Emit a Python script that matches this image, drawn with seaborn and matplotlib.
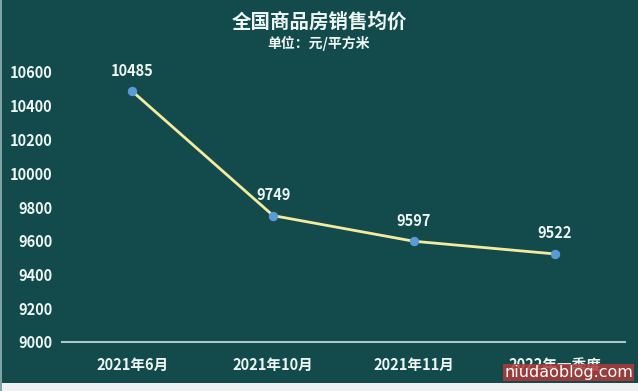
import matplotlib
matplotlib.use("Agg")
import matplotlib.pyplot as plt
import seaborn as sns
import pandas as pd
from matplotlib.patches import Rectangle

sns.set_theme(style="white")
plt.rcParams['font.family'] = ['Noto Sans CJK SC', 'DejaVu Sans']

periods = ['2021年6月', '2021年10月', '2021年11月', '2022年一季度']
avg_price = [10485, 9749, 9597, 9522]
yticks = [9000, 9200, 9400, 9600, 9800, 10000, 10200, 10400, 10600]

df = pd.DataFrame({'period': periods, 'price': avg_price})

bg = '#134a4b'
txt = '#eef6f4'
edge = '#eef1f1'

fig = plt.figure(figsize=(6.38, 3.91), dpi=100, facecolor=bg)
# light frame strips at the left and bottom edges
fig.patches.append(Rectangle((0, 0), 1, 8 / 391, transform=fig.transFigure,
                             facecolor=edge, edgecolor='none'))
fig.patches.append(Rectangle((0, 0), 2 / 638, 1, transform=fig.transFigure,
                             facecolor='#7fa3a3', edgecolor='none'))
ax = fig.add_axes([62 / 638, 49 / 391, 563 / 638, 270 / 391])
ax.set_facecolor(bg)

sns.lineplot(data=df, x='period', y='price', ax=ax, color='#f3eba0', linewidth=2,
             marker='o', markersize=6, markerfacecolor='#5b9bd5', markeredgecolor='#5b9bd5',
             sort=False)

for i, v in enumerate(avg_price):
    ax.annotate(str(v), (i, v), xytext=(0, 9), textcoords='offset points', ha='center',
                va='bottom', color=txt, fontsize=10.5, fontweight='bold', annotation_clip=False)

ax.set_xlim(-0.5, 3.5)
ax.set_ylim(9000, 10600)
ax.set_yticks(yticks)
ax.set_xlabel('')
ax.set_ylabel('')
for s in ['top', 'right', 'left']:
    ax.spines[s].set_visible(False)
ax.spines['bottom'].set_color('#a9c9c8')
ax.spines['bottom'].set_linewidth(1.5)
ax.tick_params(axis='x', length=0, colors=txt, labelsize=10.5, pad=11)
ax.tick_params(axis='y', length=0, colors=txt, labelsize=10.5, pad=7)
for lab in ax.get_xticklabels() + ax.get_yticklabels():
    lab.set_fontweight('bold')

fig.text(0.5, 0.945, '全国商品房销售均价', ha='center', va='center', color=txt,
         fontsize=14, fontweight='bold')
fig.text(0.5, 0.89, '单位：元/平方米', ha='center', va='center', color=txt,
         fontsize=10, fontweight='bold')

# watermark from the source image
fig.text(0.992, 0.028, 'niudaoblog.com', ha='right', va='bottom', color='white',
         fontsize=11.5, family='DejaVu Sans',
         bbox=dict(boxstyle='square,pad=0.08', facecolor='#b03a3a', edgecolor='none', alpha=0.85))

fig.savefig('out.png', dpi=100, facecolor=fig.get_facecolor())
